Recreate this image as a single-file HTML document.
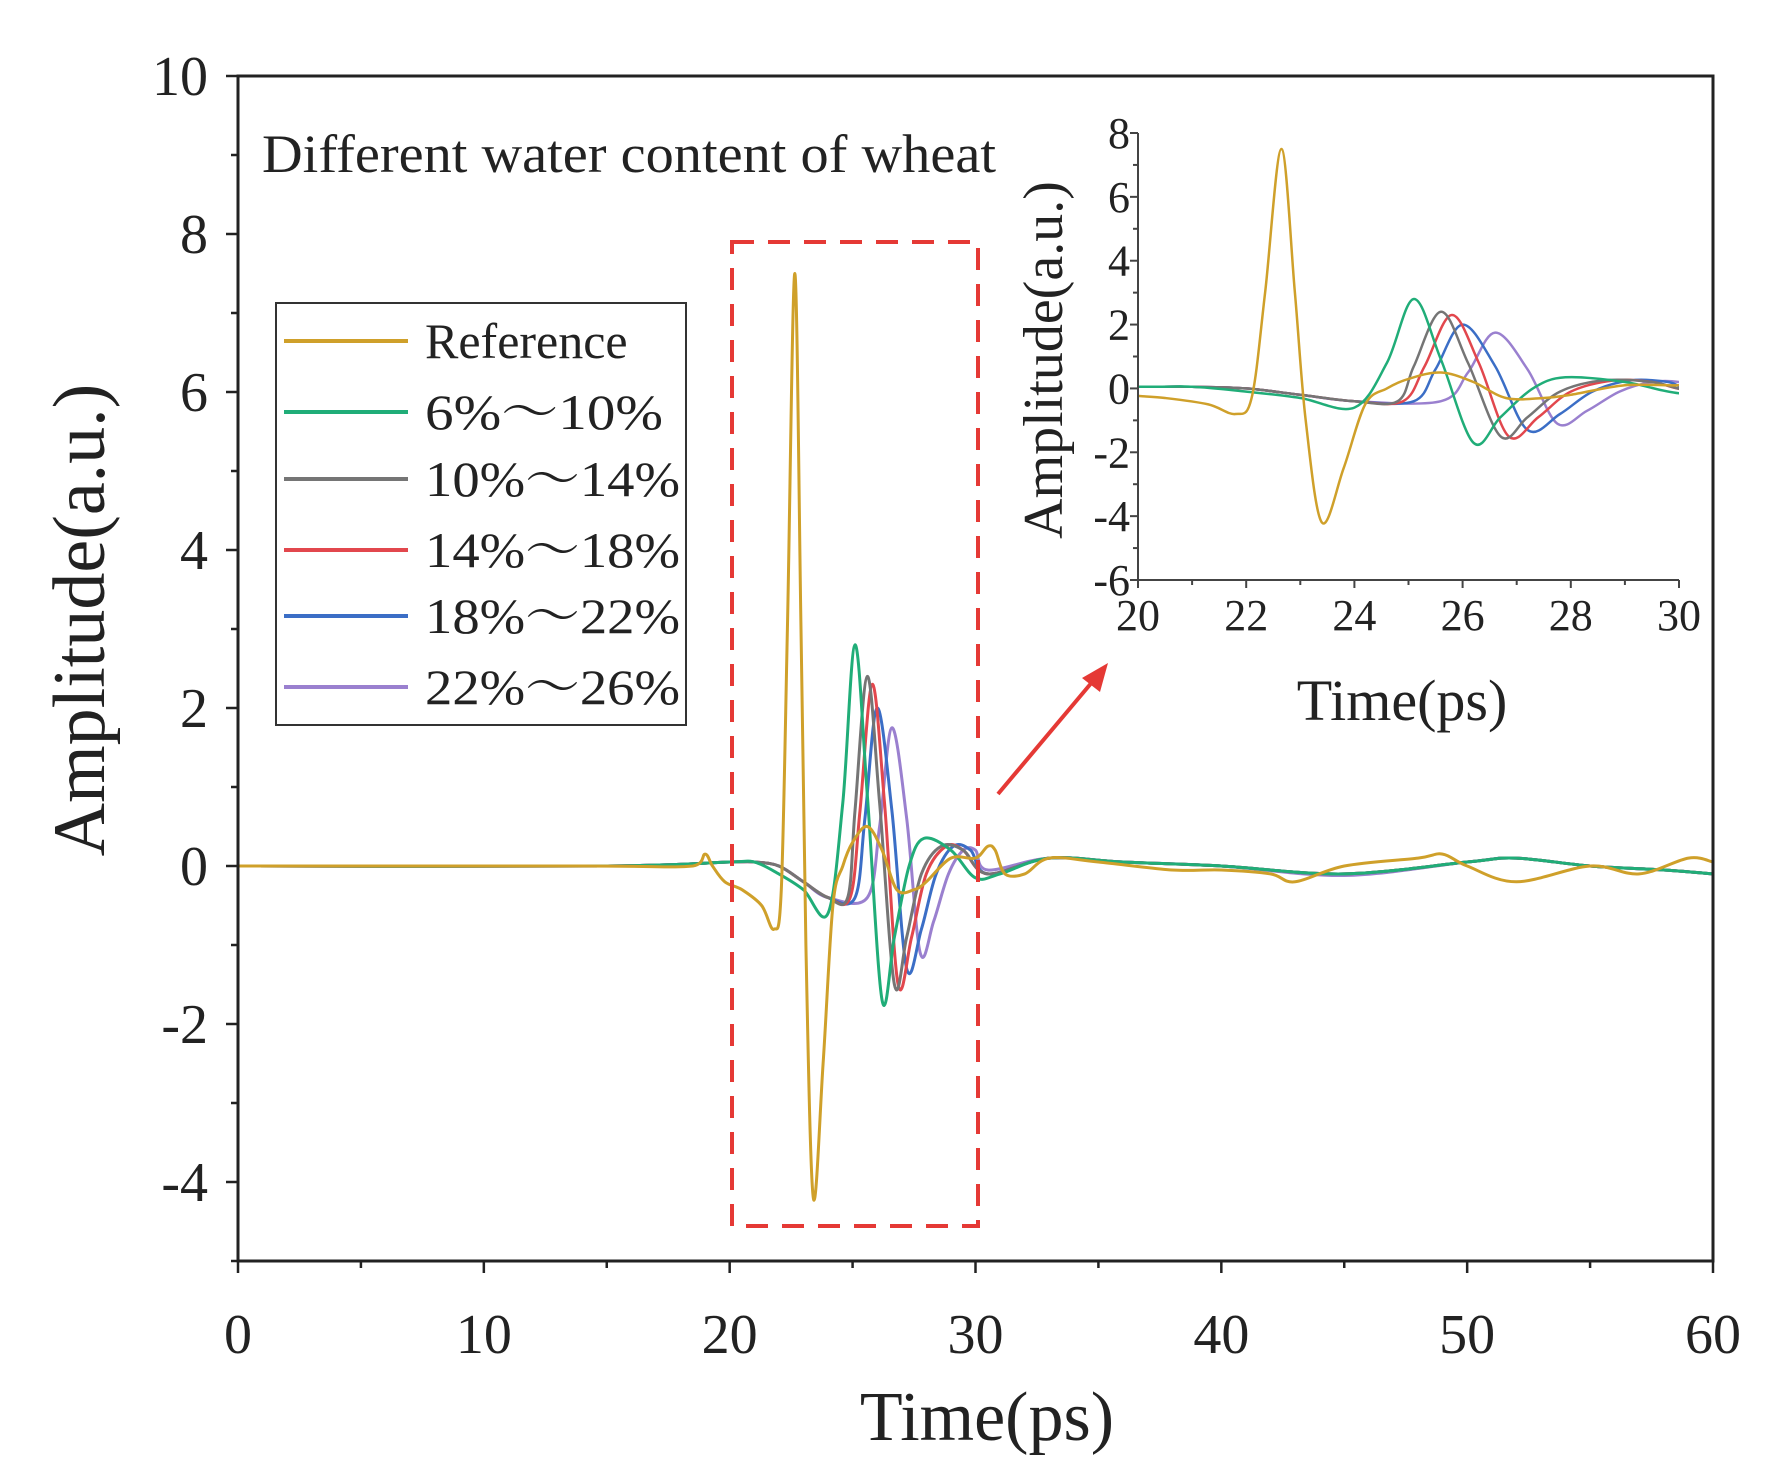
<!DOCTYPE html>
<html><head><meta charset="utf-8"><style>
html,body{margin:0;padding:0;background:#fff}
svg{display:block}
text{font-family:"Liberation Serif","Noto Serif CJK SC",serif;fill:#222}
</style></head><body>
<svg id="chart" width="1770" height="1479" viewBox="0 0 1770 1479" xmlns="http://www.w3.org/2000/svg">
<g id="main"></g>
<g id="inset"></g>
</svg>
<script>
const seriesNames=["Reference"," 6%\uFF5E10%","10%\uFF5E14%","14%\uFF5E18%","18%\uFF5E22%","22%\uFF5E26%"];
const seriesColors=["#cfa02a","#20ad78","#757575","#e2474d","#3b6ec6","#9a80cf"];
const tRef=[0,14,18.5,19,19.3,19.8,20.5,21.3,21.8,22.1,22.35,22.65,22.9,23.1,23.4,23.8,24.2,24.6,25,25.6,26.2,26.8,27.5,28,29,30,30.5,30.8,31.2,32,33,35,38,40,42,43,45,48,49,50,52,55,57,59,60];
const vRef=[0,0,0,0.15,0,-0.2,-0.3,-0.5,-0.8,-0.3,3,7.5,3,-1,-4.2,-2.5,-0.5,0,0.3,0.5,0.2,-0.3,-0.3,-0.2,0.1,0.1,0.25,0.2,-0.1,-0.1,0.1,0.05,-0.05,-0.05,-0.1,-0.2,0,0.1,0.15,0,-0.2,0,-0.1,0.1,0.05];
const tG=[0,15,20,21,22,23,24,24.6,25.1,25.6,26.2,26.7,27.3,27.9,29,30,31,33,36,40,45,50,52,55,58,60];
const vG=[0,0,0.05,0.05,-0.1,-0.3,-0.6,0.8,2.8,0.9,-1.7,-0.9,0,0.35,0.2,-0.15,-0.1,0.1,0.05,0,-0.1,0.05,0.1,0,-0.05,-0.1];
const tGr=[0,15,20,21,22,23,24,24.8,25.1,25.6,26.1,26.7,27.2,27.8,28.6,29.5,30.5,33,36,40,45,50,52,55,58,60];
const vGr=[0,0,0.05,0.05,0,-0.2,-0.4,-0.4,0.7,2.4,0.8,-1.5,-0.9,-0.1,0.25,0.2,-0.1,0.1,0.05,0,-0.1,0.05,0.1,0,-0.05,-0.1];
const tR=[0,15,20,21,22,23,24,24.9,25.3,25.8,26.3,26.85,27.4,28,28.8,29.5,30.5,33,36,40,45,50,52,55,58,60];
const vR=[0,0,0.05,0.05,0,-0.2,-0.4,-0.4,0.7,2.3,0.8,-1.5,-0.9,-0.1,0.25,0.2,-0.1,0.1,0.05,0,-0.1,0.05,0.1,0,-0.05,-0.1];
const tB=[0,15,20,21,22,23,24,25.1,25.5,26.0,26.6,27.2,27.8,28.4,29.1,29.8,30.5,33,36,40,45,50,52,55,58,60];
const vB=[0,0,0.05,0.05,0,-0.2,-0.4,-0.4,0.6,2.0,0.7,-1.3,-0.8,-0.1,0.25,0.2,-0.1,0.1,0.05,0,-0.1,0.05,0.1,0,-0.05,-0.1];
const tP=[0,15,20,21,22,23,24,25.6,26.1,26.6,27.2,27.75,28.3,28.9,29.5,30,30.5,33,36,40,45,50,52,55,58,60];
const vP=[0,0,0.05,0.05,0,-0.2,-0.4,-0.4,0.5,1.75,0.6,-1.1,-0.7,-0.1,0.2,0.2,-0.05,0.1,0.05,0,-0.12,0.05,0.1,0,-0.05,-0.1];
const seriesT=[tRef,tG,tGr,tR,tB,tP];
const seriesV=[vRef,vG,vGr,vR,vB,vP];
const mainXTicks=[0,10,20,30,40,50,60];
const mainYTicks=[-4,-2,0,2,4,6,8,10];
const insetXTicks=[20,22,24,26,28,30];
const insetYTicks=[-6,-4,-2,0,2,4,6,8];

const NS="http://www.w3.org/2000/svg";
function mk(tag,attrs,parent){const e=document.createElementNS(NS,tag);for(const k in attrs)e.setAttribute(k,attrs[k]);parent.appendChild(e);return e;}
function smoothPath(ts,vs,sx,sy){
  const p=ts.map((t,i)=>[sx(t),sy(vs[i])]);
  let d="M"+p[0][0].toFixed(1)+","+p[0][1].toFixed(1);
  for(let i=0;i<p.length-1;i++){
    const p0=p[i-1]||p[i],p1=p[i],p2=p[i+1],p3=p[i+2]||p2;
    const c1=[p1[0]+(p2[0]-p0[0])/6,p1[1]+(p2[1]-p0[1])/6];
    const c2=[p2[0]-(p3[0]-p1[0])/6,p2[1]-(p3[1]-p1[1])/6];
    c1[0]=Math.min(Math.max(c1[0],p1[0]),p2[0]);c2[0]=Math.min(Math.max(c2[0],p1[0]),p2[0]);
    d+=" C"+c1[0].toFixed(1)+","+c1[1].toFixed(1)+" "+c2[0].toFixed(1)+","+c2[1].toFixed(1)+" "+p2[0].toFixed(1)+","+p2[1].toFixed(1);
  }
  return d;
}
const svg=document.getElementById('chart');
const M=document.getElementById('main');


const mx=v=>238+(v-0)*(1713-238)/60;
const my=v=>866-v*79;
const defs=mk('defs',{},svg);
const cp=mk('clipPath',{id:'mclip'},defs);mk('rect',{x:238,y:76,width:1475,height:1185},cp);
const cp2=mk('clipPath',{id:'iclip'},defs);mk('rect',{x:1138,y:120,width:541,height:460},cp2);

const lines=mk('g',{'clip-path':'url(#mclip)'},M);
const drawOrder=[5,4,3,2,1,0];
drawOrder.forEach(s=>{
  const p=mk('path',{d:smoothPath(seriesT[s],seriesV[s],mx,my),fill:'none',stroke:seriesColors[s],'stroke-width':3,'stroke-linejoin':'round'},lines);
  
  
});
const frame=mk('rect',{x:238,y:76,width:1475,height:1185,fill:'none',stroke:'#222','stroke-width':3},M);


for(let v=0;v<=60;v+=5){const x=mx(v);mk('line',{x1:x,y1:1261,x2:x,y2:1261+(v%10===0?12:7),stroke:'#222','stroke-width':2.5},M);}
mainXTicks.forEach(v=>{const t=mk('text',{x:mx(v),y:1353,'font-size':56,'text-anchor':'middle'},M);t.textContent=v;
  });
for(let v=-5;v<=10;v+=1){const y=my(v);mk('line',{x1:238,y1:y,x2:238-(v%2===0?12:7),y2:y,stroke:'#222','stroke-width':2.5},M);}
mainYTicks.forEach(v=>{const t=mk('text',{x:208,y:my(v)+19,'font-size':56,'text-anchor':'end'},M);t.textContent=v;
  });
let t=mk('text',{x:987,y:1440,'font-size':70,'text-anchor':'middle'},M);t.textContent='Time(ps)';

t=mk('text',{x:0,y:0,'font-size':74,'text-anchor':'middle',transform:'translate(104,620) rotate(-90)'},M);t.textContent='Amplitude(a.u.)';

t=mk('text',{x:262,y:172,'font-size':54,textLength:734,lengthAdjust:'spacingAndGlyphs'},M);t.textContent='Different water content of wheat';

let r=mk('rect',{x:732,y:242,width:246,height:984,fill:'none',stroke:'#e53935','stroke-width':4,'stroke-dasharray':'22,14'},M);

let a=mk('line',{x1:998,y1:794,x2:1093,y2:681,stroke:'#e53935','stroke-width':4},M);

mk('polygon',{points:'1108,663 1082,678 1100,692',fill:'#e53935'},M);
const L=mk('g',{},M);

mk('rect',{x:276,y:303,width:410,height:422,fill:'#fff',stroke:'#333','stroke-width':2},L);
const rowsY=[341,412,479,550,616,687];
seriesNames.forEach((n,i)=>{
  const g=mk('g',{},L);
  
  mk('line',{x1:284,y1:rowsY[i],x2:408,y2:rowsY[i],stroke:seriesColors[i],'stroke-width':4},g);
  const tx=mk('text',{x:425,y:rowsY[i]+17,'font-size':50},g);tx.textContent=n;
  if(i>0){tx.setAttribute('textLength',i===1?238:255);tx.setAttribute('lengthAdjust','spacingAndGlyphs');}
});
const I=document.getElementById('inset');

const ix=v=>1138+(v-20)*(1679-1138)/10;
const iy=v=>133+(8-v)*(580-133)/14;
const il=mk('g',{'clip-path':'url(#iclip)'},I);
drawOrder.forEach(s=>{
  const p=mk('path',{d:smoothPath(seriesT[s],seriesV[s],ix,iy),fill:'none',stroke:seriesColors[s],'stroke-width':2.5,'stroke-linejoin':'round'},il);
  
  
});
mk('line',{x1:1138,y1:133,x2:1138,y2:580,stroke:'#444','stroke-width':2},I);
mk('line',{x1:1138,y1:580,x2:1679,y2:580,stroke:'#444','stroke-width':2},I);
for(let v=20;v<=30;v+=1){mk('line',{x1:ix(v),y1:580,x2:ix(v),y2:580+(v%2===0?8:5),stroke:'#444','stroke-width':2},I);}
for(let v=-6;v<=8;v+=1){mk('line',{x1:1138,y1:iy(v),x2:1138-(v%2===0?8:5),y2:iy(v),stroke:'#444','stroke-width':2},I);}
insetXTicks.forEach(v=>{const tx=mk('text',{x:ix(v),y:630,'font-size':44,'text-anchor':'middle'},I);tx.textContent=v;
  });
insetYTicks.forEach(v=>{const tx=mk('text',{x:1130,y:iy(v)+15,'font-size':44,'text-anchor':'end'},I);tx.textContent=v;
  });
t=mk('text',{x:1402,y:720,'font-size':58,'text-anchor':'middle'},I);t.textContent='Time(ps)';

t=mk('text',{x:0,y:0,'font-size':56,'text-anchor':'middle',transform:'translate(1062,360) rotate(-90)'},I);t.textContent='Amplitude(a.u.)';

</script>
</body></html>
